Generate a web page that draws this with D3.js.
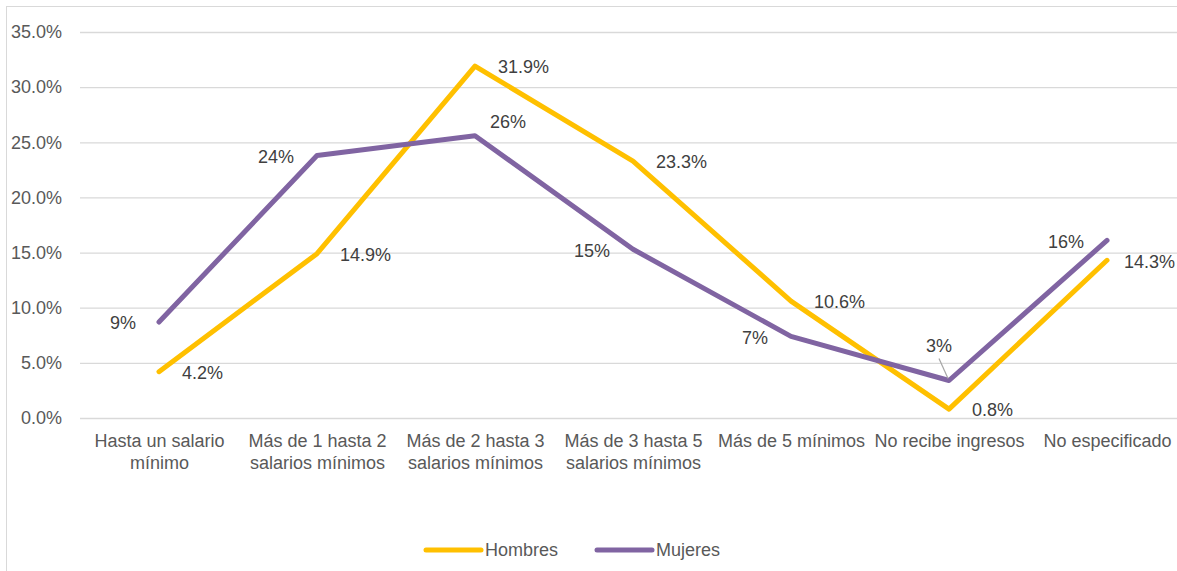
<!DOCTYPE html>
<html>
<head>
<meta charset="utf-8">
<script src="https://cdn.jsdelivr.net/npm/d3@7"></script>
<style>
  body { margin: 0; background: #fff; overflow: hidden; }
  svg { display: block; font-family: Arial, "Liberation Sans", sans-serif; }
</style>
</head>
<body>
<svg id="chart"></svg>
<script>
const width = 1177;
const height = 571;

// data
const categories = [
    "Hasta un salario\nmínimo",
    "Más de 1 hasta 2\nsalarios mínimos",
    "Más de 2 hasta 3\nsalarios mínimos",
    "Más de 3 hasta 5\nsalarios mínimos",
    "Más de 5 mínimos",
    "No recibe ingresos",
    "No especificado"
];
const hombres = [4.2, 14.9, 31.9, 23.3, 10.6, 0.8, 14.3];
const mujeres = [8.7, 23.8, 25.6, 15.3, 7.4, 3.4, 16.1];
const yTicks = [0, 5, 10, 15, 20, 25, 30, 35];
const seriesNames = ["Hombres", "Mujeres"];

// where each Mujeres label sits relative to its point
const mujeresLabelPos = ["left", "left", "upright", "left", "left", "above", "left"];

const colors = { Hombres: "#FFC000", Mujeres: "#8064A2" };
const fontSize = "18px";

const svg = d3.select("#chart").attr("width", width).attr("height", height);

// chart area border (cut off by the window on right and bottom)
svg.append("rect")
    .attr("x", 6.5).attr("y", 6.5)
    .attr("width", 1300).attr("height", 700)
    .attr("fill", "none")
    .attr("stroke", "#d9d9d9");

const x = d3.scalePoint()
    .domain(categories)
    .range([80, 1186])
    .padding(0.5);

const y = d3.scaleLinear()
    .domain([0, 35])
    .range([418, 32]);

// y axis with gridlines
const yAxis = svg.append("g")
    .attr("transform", "translate(80,0)")
    .call(d3.axisLeft(y)
        .tickValues(yTicks)
        .tickSize(-(1186 - 80))
        .tickPadding(18)
        .tickFormat(d => d3.format(".1f")(d) + "%"));
yAxis.select(".domain").remove();
yAxis.selectAll(".tick line").attr("stroke", "#d9d9d9").attr("stroke-width", 1.3);
yAxis.selectAll(".tick text")
    .attr("fill", "#595959")
    .style("font-size", fontSize)
    .style("font-family", "Arial, 'Liberation Sans', sans-serif");

// x axis labels, wrapped
const xAxis = svg.append("g")
    .attr("transform", "translate(0,418)")
    .call(d3.axisBottom(x).tickSize(0).tickFormat(""));
xAxis.select(".domain").remove();
xAxis.selectAll(".tick").each(function(d) {
    const lines = d.split("\n");
    const t = d3.select(this).append("text")
        .attr("fill", "#595959")
        .attr("text-anchor", "middle")
        .style("font-size", fontSize)
        .style("font-family", "Arial, 'Liberation Sans', sans-serif");
    lines.forEach((ln, i) => {
        t.append("tspan").attr("x", 0).attr("y", 29 + i * 22).text(ln);
    });
});

const line = d3.line()
    .x((d, i) => x(categories[i]))
    .y(d => y(d));

svg.append("path")
    .datum(hombres)
    .attr("fill", "none")
    .attr("stroke", colors.Hombres)
    .attr("stroke-width", 5)
    .attr("stroke-linejoin", "round")
    .attr("stroke-linecap", "round")
    .attr("d", line);

svg.append("path")
    .datum(mujeres)
    .attr("fill", "none")
    .attr("stroke", colors.Mujeres)
    .attr("stroke-width", 5)
    .attr("stroke-linejoin", "round")
    .attr("stroke-linecap", "round")
    .attr("d", line);

// data labels
const labelStyle = sel => sel
    .attr("fill", "#404040")
    .style("font-size", fontSize);

svg.append("g").selectAll("text")
    .data(hombres)
    .enter().append("text")
    .call(labelStyle)
    .attr("x", (d, i) => x(categories[i]) + 23)
    .attr("y", d => y(d) + 1)
    .attr("dy", ".35em")
    .attr("text-anchor", "start")
    .text(d => d3.format(".1f")(d) + "%")
    .each(function() {
        // keep the last label inside the window
        const w = this.getComputedTextLength();
        const x0 = +this.getAttribute("x");
        if (x0 + w > width - 2) this.setAttribute("x", width - 2 - w);
    });

const mLabels = svg.append("g");
mujeres.forEach((d, i) => {
    const px = x(categories[i]);
    const py = y(d);
    const pos = mujeresLabelPos[i];
    const t = mLabels.append("text").call(labelStyle)
        .attr("dy", ".35em")
        .text(d3.format(".0f")(d) + "%");
    if (pos === "left") {
        t.attr("x", px - 23).attr("y", py + 1).attr("text-anchor", "end");
    } else if (pos === "upright") {
        t.attr("x", px + 15).attr("y", py - 14).attr("text-anchor", "start");
    } else {
        t.attr("x", px - 10).attr("y", py - 35).attr("text-anchor", "middle");
        mLabels.append("line")
            .attr("x1", px - 10).attr("y1", py - 22)
            .attr("x2", px - 1).attr("y2", py - 2)
            .attr("stroke", "#a6a6a6")
            .attr("stroke-width", 1.2);
    }
});

// legend
const legend = svg.append("g").attr("transform", "translate(426,550)");
const legendX = [0, 171];
seriesNames.forEach((name, i) => {
    const g = legend.append("g").attr("transform", `translate(${legendX[i]},0)`);
    g.append("line")
        .attr("x1", 0).attr("x2", 55)
        .attr("y1", 0).attr("y2", 0)
        .attr("stroke", colors[name])
        .attr("stroke-width", 5)
        .attr("stroke-linecap", "round");
    g.append("text")
        .attr("x", 59)
        .attr("y", 0)
        .attr("dy", ".35em")
        .attr("fill", "#595959")
        .style("font-size", fontSize)
        .text(name);
});
</script>
</body>
</html>
